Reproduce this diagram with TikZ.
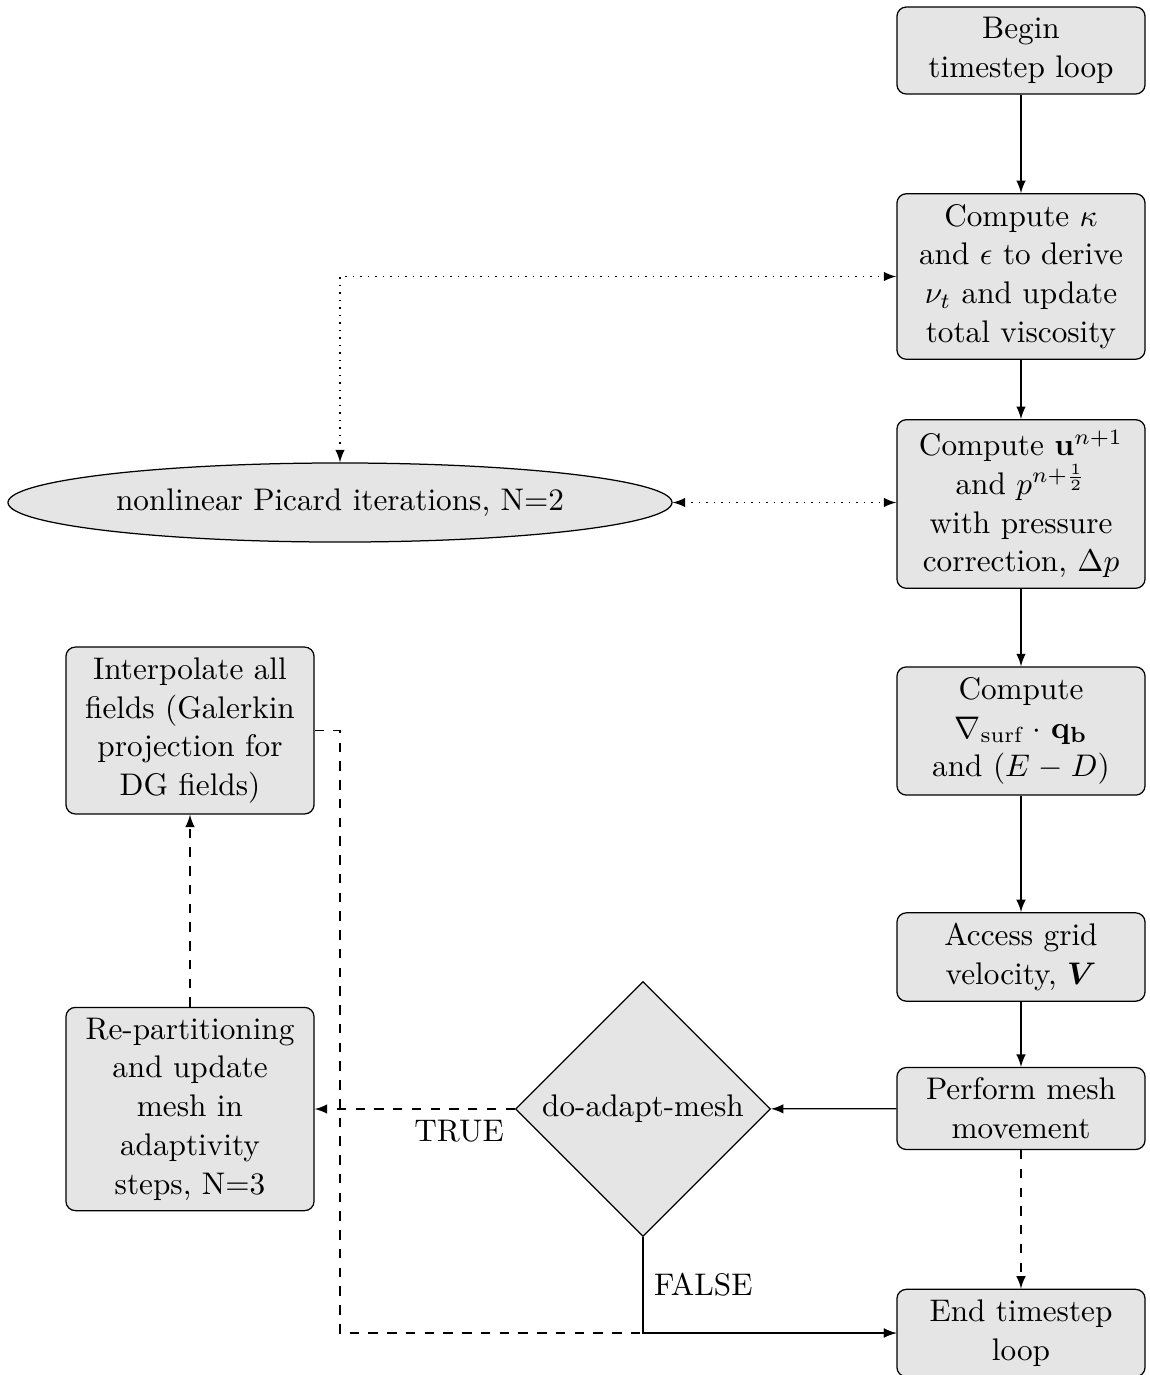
\documentclass[tikz,border=0pt]{standalone}
\usepackage{amsmath,amssymb,bm}
\usetikzlibrary{shapes.geometric,arrows}
\begin{document}
\begin{tikzpicture}[x=0.32pt,y=-0.32pt,>=latex,
  box/.style={draw, rounded corners=3pt, fill=gray!20, align=center,
    text width=72pt, minimum width=79.4pt, inner xsep=3.7pt,
    font=\fontsize{10}{12.4}\selectfont},
  ellbox/.style={draw, ellipse, fill=gray!20, minimum width=212.5pt, minimum height=25.3pt},
  decbox/.style={draw, diamond, fill=gray!20, minimum width=81.6pt, minimum height=81.6pt, inner sep=1pt},
  flow/.style={->},
  dflow/.style={->, dashed},
  pflow/.style={<->, dotted}]
\useasboundingbox (0,0) rectangle (1150,1375);

\node[box, minimum height=27.8pt] (begin) at (1021,50.5) {Begin\\timestep loop};
\node[box, minimum height=52.2pt] (kappa) at (1021,276.5) {Compute $\kappa$\\and $\epsilon$ to derive\\$\nu_t$ and update\\total viscosity};
\node[box, minimum height=53.1pt] (ucomp) at (1021,504) {Compute $\mathbf{u}^{n+1}$\\and $p^{n+\frac{1}{2}}$\\with pressure\\correction, $\Delta p$};
\node[box, minimum height=41pt] (grad) at (1021,731) {Compute\\$\nabla_{\text{surf}}\cdot\mathbf{q_b}$\\and $(E-D)$};
\node[box, minimum height=28.2pt] (access) at (1021,957) {Access grid\\velocity, $\boldsymbol{V}$};
\node[box, minimum height=26.2pt] (perform) at (1021,1108.5) {Perform mesh\\movement};
\node[box, minimum height=26.2pt] (end) at (1021,1333) {End timestep\\loop};

\node[box, minimum height=53.4pt] (interp) at (190,730.5) {Interpolate all\\fields (Galerkin\\projection for\\DG fields)};
\node[box, minimum height=64.6pt] (repart) at (190,1109) {Re-partitioning\\and update\\mesh in\\adaptivity\\steps, N=3};

\node[ellbox] (ell) at (340,502.5) {nonlinear Picard iterations, N=2};
\node[decbox] (dec) at (643,1109) {do-adapt-mesh};

\draw[flow] (begin) -- (kappa);
\draw[flow] (kappa) -- (ucomp);
\draw[flow] (ucomp) -- (grad);
\draw[flow] (grad) -- (access);
\draw[flow] (access) -- (perform);
\draw[flow] (perform) -- (dec);
\draw[dflow] (perform) -- (end);
\draw[dflow] (dec.west) -- node[pos=0, anchor=north east] {TRUE} (dec.west -| repart.east);
\draw[dflow] (repart) -- (interp);
\draw[dflow] (interp.east) -- (interp.east -| ell.north) |- (end.west);
\draw[flow] (dec.south) |- node[pos=0.25, right] {FALSE} (end.west);
\draw[pflow] (ell.north) |- (kappa.west);
\draw[pflow] (ell.east) -- (ell.east -| ucomp.west);
\end{tikzpicture}
\end{document}
